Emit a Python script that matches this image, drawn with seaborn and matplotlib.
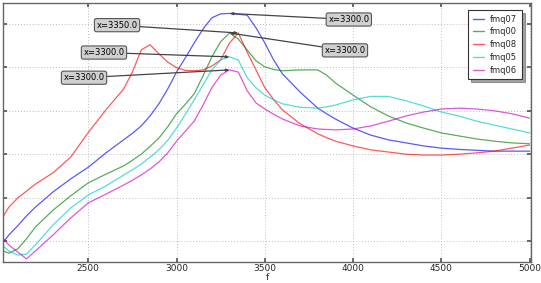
import numpy as np
import pandas as pd
import matplotlib
matplotlib.use("Agg")
import matplotlib.pyplot as plt
import seaborn as sns
from matplotlib.lines import Line2D

# ---- data ----
freq = [2020, 2050, 2100, 2150, 2200, 2300, 2400, 2500, 2600, 2700, 2750, 2800, 2850,
        2900, 2950, 3000, 3050, 3100, 3150, 3200, 3250, 3300, 3350, 3400, 3450, 3500,
        3550, 3600, 3700, 3800, 3850, 3900, 4000, 4100, 4200, 4300, 4400, 4500, 4600,
        4700, 4800, 4900, 5000]

fmq07 = [-0.02, 0.14, 0.35, 0.58, 0.78, 1.13, 1.43, 1.70, 2.03, 2.33, 2.48, 2.65, 2.88,
         3.16, 3.50, 3.89, 4.22, 4.56, 4.88, 5.14, 5.23, 5.24, 5.22, 5.20, 4.91, 4.56,
         4.17, 3.85, 3.43, 3.06, 2.93, 2.81, 2.60, 2.44, 2.33, 2.26, 2.19, 2.14, 2.11,
         2.09, 2.07, 2.07, 2.07]

fmq00 = [-0.23, -0.28, -0.18, 0.05, 0.32, 0.71, 1.04, 1.34, 1.54, 1.73, 1.86, 2.00, 2.18,
         2.37, 2.63, 2.93, 3.15, 3.39, 3.80, 4.24, 4.59, 4.79, 4.65, 4.40, 4.15, 4.01,
         3.95, 3.92, 3.94, 3.94, 3.82, 3.64, 3.36, 3.09, 2.88, 2.72, 2.60, 2.49, 2.42,
         2.35, 2.30, 2.26, 2.24]

fmq08 = [0.58, 0.78, 0.99, 1.15, 1.31, 1.57, 1.93, 2.50, 3.02, 3.50, 3.89, 4.40, 4.52,
         4.31, 4.12, 3.99, 3.93, 3.92, 3.94, 4.03, 4.17, 4.56, 4.79, 4.35, 3.94, 3.53,
         3.26, 3.02, 2.70, 2.47, 2.38, 2.30, 2.19, 2.10, 2.05, 2.00, 1.98, 1.98, 2.00,
         2.03, 2.07, 2.14, 2.21]

fmq05 = [-0.12, -0.23, -0.32, -0.30, -0.09, 0.37, 0.76, 1.06, 1.27, 1.52, 1.64, 1.77, 1.93,
         2.10, 2.32, 2.60, 2.92, 3.25, 3.59, 3.94, 4.17, 4.24, 4.17, 3.76, 3.53, 3.36,
         3.25, 3.16, 3.08, 3.06, 3.09, 3.13, 3.25, 3.33, 3.33, 3.23, 3.11, 2.97, 2.88,
         2.76, 2.67, 2.58, 2.49]

fmq06 = [0.05, -0.09, -0.25, -0.41, -0.23, 0.14, 0.53, 0.88, 1.08, 1.29, 1.40, 1.52, 1.66,
         1.82, 2.03, 2.30, 2.53, 2.76, 3.13, 3.53, 3.82, 3.94, 3.89, 3.46, 3.18, 3.04,
         2.92, 2.81, 2.65, 2.58, 2.57, 2.56, 2.58, 2.65, 2.76, 2.88, 2.97, 3.04, 3.06,
         3.04, 3.00, 2.93, 2.83]

names = ["fmq07", "fmq00", "fmq08", "fmq05", "fmq06"]
series = [fmq07, fmq00, fmq08, fmq05, fmq06]
colors = ["#0000ff", "#008000", "#ff0000", "#00c8c8", "#c800c8"]

# annotation text placement (data coords) per series
label_pos = {
    "fmq07": (3976, 5.10),
    "fmq00": (3954, 4.39),
    "fmq08": (2663, 4.97),
    "fmq05": (2589, 4.34),
    "fmq06": (2476, 3.76),
}

df = pd.concat(
    [pd.DataFrame({"f": freq, "value": s, "series": n}) for n, s in zip(names, series)],
    ignore_index=True,
)

sns.set_theme(style="white")
plt.rcParams["font.family"] = ["DejaVu Sans"]

fig = plt.figure(figsize=(5.41, 2.83), dpi=100)
ax = fig.add_axes([3 / 541, 1 - 261.5 / 283, 528 / 541, 258.5 / 283])

sns.lineplot(data=df, x="f", y="value", hue="series", hue_order=names,
             palette=dict(zip(names, colors)), estimator=None, sort=False,
             linewidth=0.9, alpha=0.65, ax=ax, legend=False)

# annotations at each series peak
for n, s in zip(names, series):
    i = int(np.argmax(s))
    px, py = freq[i], s[i]
    tx, ty = label_pos[n]
    ax.annotate("x=%.1f" % px, xy=(px, py), xytext=(tx, ty),
                ha="center", va="center", fontsize=6, color="black",
                bbox=dict(boxstyle="round,pad=0.25", fc="#d0d0d0", ec="#555555", lw=0.8),
                arrowprops=dict(arrowstyle="-|>,head_length=0.3,head_width=0.12",
                                color="#444444", lw=0.9, shrinkA=0, shrinkB=0))

ax.set_xlim(2017, 5008)
ax.set_ylim(-0.47, 5.48)
ax.set_xticks([2500, 3000, 3500, 4000, 4500, 5000])
ax.set_xticklabels(["2500", "3000", "3500", "4000", "4500", "5000"])
ax.set_yticks([0, 1, 2, 3, 4, 5])
ax.tick_params(axis="y", labelleft=False, left=True, right=True, direction="in",
               length=3, color="#555555")
ax.tick_params(axis="x", labelsize=6.5, bottom=True, top=True, direction="in",
               length=3, color="#555555", pad=2)
ax.set_xlabel("f", fontsize=6.5, labelpad=0)
ax.set_ylabel("")
ax.grid(True, linestyle=(0, (1, 2)), color="#bdbdbd", linewidth=0.7)
for sp in ax.spines.values():
    sp.set_color("#666666")
    sp.set_linewidth(1.0)

handles = [Line2D([0], [0], color=c, lw=1.0, alpha=0.65) for c in colors]
leg = ax.legend(handles, names, loc="upper right", bbox_to_anchor=(0.983, 0.973),
                borderaxespad=0, fontsize=6, frameon=True, fancybox=False,
                shadow=True, framealpha=1, edgecolor="#333333", handlelength=1.3,
                labelspacing=0.45, handletextpad=0.8, borderpad=0.55)
leg.get_frame().set_linewidth(0.8)

fig.savefig("out.png", dpi=100)
